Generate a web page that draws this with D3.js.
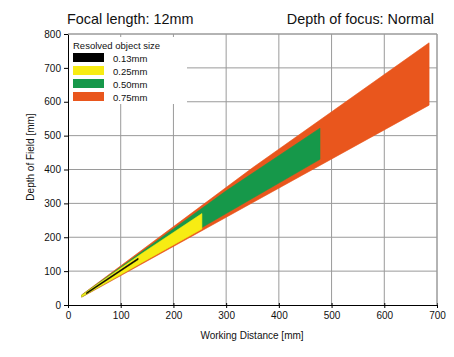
<!DOCTYPE html>
<html><head><meta charset="utf-8">
<script src="https://cdn.jsdelivr.net/npm/d3@7"></script>
<style>
body{margin:0;background:#fff;}
svg{display:block;font-family:"Liberation Sans",Arial,sans-serif;}
</style></head>
<body><svg id="c" width="454" height="357"></svg>
<script>
// ---- data ----
const sizes = ["0.13mm", "0.25mm", "0.50mm", "0.75mm"];
const colors = ["#000000", "#F7EC13", "#16984A", "#E9561D"];
// working distance (mm) and near / far limit (mm)
const wd013 = [35, 133];
const near013 = [33, 134];
const far013 = [36, 138];
const wd025 = [26, 140, 254];
const near025 = [24, 125, 224];
const far025 = [29, 152, 270];
const wd050 = [26, 300, 478];
const near050 = [24, 270, 430];
const far050 = [29, 337, 522];
const wd075 = [26, 350, 685];
const near075 = [23, 302, 590];
const far075 = [30, 405, 774];
const xTicks = [0, 100, 200, 300, 400, 500, 600, 700];
const yTicks = [0, 100, 200, 300, 400, 500, 600, 700, 800];

const bands = [
  {wd: wd075, near: near075, far: far075, color: colors[3]},
  {wd: wd050, near: near050, far: far050, color: colors[2]},
  {wd: wd025, near: near025, far: far025, color: colors[1]},
  {wd: wd013, near: near013, far: far013, color: colors[0]}
];

const svg = d3.select("#c");
const L = 68, R = 437, T = 34, B = 305;
const x = d3.scaleLinear().domain([0, 700]).range([L, R]);
const y = d3.scaleLinear().domain([0, 800]).range([B, T]);

// grid
svg.append("g").selectAll("line").data(xTicks.slice(1)).join("line")
  .attr("x1", d => x(d)).attr("x2", d => x(d)).attr("y1", T).attr("y2", B)
  .attr("stroke", "#9a9a9a").attr("stroke-width", 1);
svg.append("g").selectAll("line").data(yTicks.slice(1)).join("line")
  .attr("x1", L).attr("x2", R).attr("y1", d => y(d)).attr("y2", d => y(d))
  .attr("stroke", "#9a9a9a").attr("stroke-width", 1);

// bands
const line = d3.line().x(d => x(d[0])).y(d => y(d[1]));
bands.forEach(b => {
  const pts = b.wd.map((w, i) => [w, b.far[i]])
    .concat(b.wd.map((w, i) => [w, b.near[i]]).reverse());
  svg.append("path").attr("d", line(pts) + "Z").attr("fill", b.color)
    .attr("stroke", b.color).attr("stroke-width", 0.6);
});

// axes
const ax = svg.append("g").attr("transform", `translate(0,${B})`)
  .call(d3.axisBottom(x).tickValues(xTicks).tickSize(3).tickSizeOuter(0).tickPadding(4));
const ay = svg.append("g").attr("transform", `translate(${L},0)`)
  .call(d3.axisLeft(y).tickValues(yTicks).tickSize(4).tickSizeOuter(0).tickPadding(3));
[ax, ay].forEach(g => {
  g.selectAll("text").attr("font-size", 10).attr("fill", "#111")
    .attr("font-family", "Liberation Sans, Arial, sans-serif");
  g.select(".domain").attr("stroke", "#000");
  g.selectAll(".tick line").attr("stroke", "#000");
});
ax.selectAll(".tick line").attr("y1", -2);

// legend
const lg = svg.append("g");
lg.append("rect").attr("x", L + 1).attr("y", 37).attr("width", 118).attr("height", 67).attr("fill", "#fff");
lg.append("text").attr("x", 73).attr("y", 49).attr("font-size", 9.5).attr("fill", "#111").text("Resolved object size");
sizes.forEach((s, i) => {
  const yy = 53 + i * 13;
  lg.append("rect").attr("x", 73).attr("y", yy).attr("width", 31).attr("height", 9).attr("fill", colors[i]);
  lg.append("text").attr("x", 113).attr("y", yy + 8.5).attr("font-size", 9.5).attr("fill", "#111").text(s);
});

// frame (top/right gray)
svg.append("path").attr("d", `M${L},${T}H${R}V${B}`).attr("fill", "none").attr("stroke", "#9a9a9a");

// titles
svg.append("text").attr("x", 67).attr("y", 24).attr("font-size", 14.4).attr("fill", "#111").text("Focal length: 12mm");
svg.append("text").attr("x", 434).attr("y", 24).attr("font-size", 14.4).attr("text-anchor", "end").attr("fill", "#111").text("Depth of focus: Normal");
svg.append("text").attr("x", 252).attr("y", 339).attr("font-size", 10).attr("text-anchor", "middle").attr("fill", "#111").text("Working Distance [mm]");
svg.append("text").attr("transform", "translate(34,157) rotate(-90)").attr("font-size", 10).attr("text-anchor", "middle").attr("fill", "#111").text("Depth of Field [mm]");
</script></body></html>
